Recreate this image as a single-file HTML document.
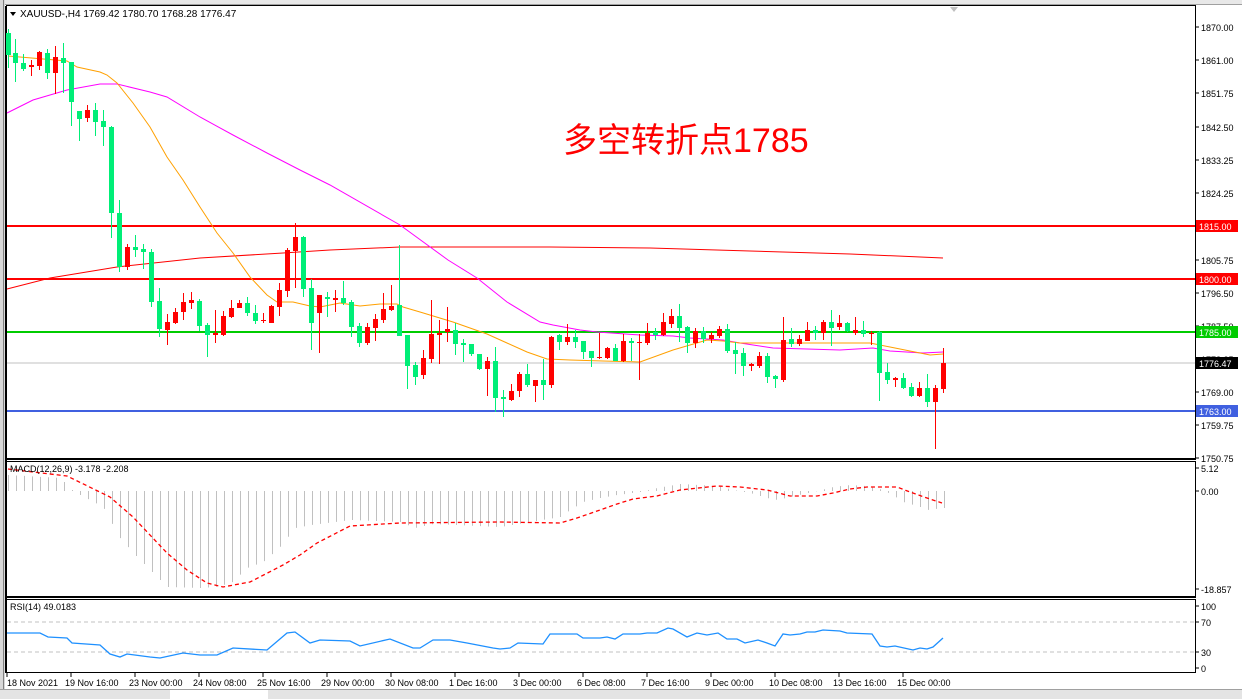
<!DOCTYPE html>
<html><head><meta charset="utf-8">
<style>
html,body{margin:0;padding:0;background:#fff;}
body{width:1242px;height:699px;overflow:hidden;position:relative;font-family:"Liberation Sans",sans-serif;}
svg{position:absolute;left:0;top:0;}
</style></head>
<body>
<svg id="s" width="1242" height="699" xmlns="http://www.w3.org/2000/svg" font-family="Liberation Sans, sans-serif">
<rect x="0" y="0" width="1242" height="699" fill="#fff"/>
<!-- top strip -->
<rect x="0" y="0" width="1242" height="4" fill="#e8e8e8"/>
<line x1="0" y1="4.5" x2="1242" y2="4.5" stroke="#a0a0a0"/>
<rect x="0" y="0" width="5" height="699" fill="#d8d8d8"/>
<line x1="3.5" y1="0" x2="3.5" y2="699" stroke="#808080"/>
<!-- frames -->
<rect x="6.5" y="5.5" width="1189" height="453" fill="none" stroke="#000"/>
<line x1="6" y1="6" x2="6" y2="673" stroke="#000" stroke-width="2"/>
<rect x="6.5" y="461.5" width="1189" height="135" fill="none" stroke="#000"/>
<line x1="6" y1="459.5" x2="1196" y2="459.5" stroke="#000"/>
<rect x="6.5" y="599.5" width="1189" height="73" fill="none" stroke="#000"/>
<line x1="6" y1="597.5" x2="1196" y2="597.5" stroke="#000"/>
<!-- bottom tab bar -->
<rect x="0" y="689" width="1242" height="10" fill="#e4e4e4"/>
<line x1="0" y1="689.5" x2="1242" y2="689.5" stroke="#a0a0a0"/>
<rect x="170" y="690" width="98" height="9" fill="#fff"/>
<g id="hl"></g>
<g id="ma"></g>
<g id="cd"></g>
<g id="ind"></g>
<!-- texts -->
<text x="20" y="17" font-size="10" fill="#000">XAUUSD-,H4  1769.42 1780.70 1768.28 1776.47</text>
<polygon points="10,12 16,12 13,16" fill="#000"/>
<polygon points="950,7 958,7 954,12" fill="#c0c0c0"/>
<text x="563" y="152" font-size="34" fill="#ff0000" font-family="Liberation Sans, Noto Sans CJK SC, sans-serif">多空转折点1785</text>
<text x="10" y="472" font-size="9" fill="#000">MACD(12,26,9) -3.178 -2.208</text>
<text x="10" y="610" font-size="9" fill="#000">RSI(14) 49.0183</text>
<g id="ax" font-size="9" fill="#000"></g>
</svg>
<script>
const NS="http://www.w3.org/2000/svg";
function el(p,t,a,txt){const e=document.createElementNS(NS,t);for(const k in a)e.setAttribute(k,a[k]);if(txt!==undefined)e.textContent=txt;p.appendChild(e);return e;}
const hl=document.getElementById('hl'),ma=document.getElementById('ma'),cd=document.getElementById('cd'),ind=document.getElementById('ind'),ax=document.getElementById('ax');
// horizontal levels
[[226,'#ff0000',2],[279,'#ff0000',2],[332,'#00cc00',2],[363,'#c0c0c0',1],[411,'#4060e0',2]].forEach(l=>el(hl,'line',{x1:7,x2:1195,y1:l[0],y2:l[0],stroke:l[1],'stroke-width':l[2]}));
// price axis
const pl=[[27,'1870.00'],[60,'1861.00'],[93,'1851.75'],[127,'1842.50'],[160,'1833.25'],[193,'1824.25'],[260,'1805.75'],[293,'1796.50'],[326,'1787.50'],[359,'1778.25'],[392,'1769.00'],[425,'1759.75'],[458,'1750.75']];
pl.forEach(p=>{el(ax,'line',{x1:1195,x2:1199,y1:p[0],y2:p[0],stroke:'#000'});el(ax,'text',{x:1201,y:p[0]+4},p[1]);});
[[226,'1815.00','#ff0000'],[279,'1800.00','#ff0000'],[332,'1785.00','#00cc00'],[363,'1776.47','#000'],[411,'1763.00','#4060e0']].forEach(b=>{el(ax,'rect',{x:1196,y:b[0]-6,width:42,height:12,fill:b[2]});el(ax,'text',{x:1199,y:b[0]+4,fill:'#fff'},b[1]);});
[[468,'5.12'],[491,'0.00'],[589,'-18.857']].forEach(p=>{el(ax,'line',{x1:1195,x2:1199,y1:p[0],y2:p[0],stroke:'#000'});el(ax,'text',{x:1201,y:p[0]+4},p[1]);});
[[606,'100'],[622,'70'],[652,'30'],[668,'0']].forEach(p=>{el(ax,'line',{x1:1195,x2:1199,y1:p[0],y2:p[0],stroke:'#000'});el(ax,'text',{x:1201,y:p[0]+4},p[1]);});
const dl=['18 Nov 2021','19 Nov 16:00','23 Nov 00:00','24 Nov 08:00','25 Nov 16:00','29 Nov 00:00','30 Nov 08:00','1 Dec 16:00','3 Dec 00:00','6 Dec 08:00','7 Dec 16:00','9 Dec 00:00','10 Dec 08:00','13 Dec 16:00','15 Dec 00:00'];
const dx=[7,71,135,199,263,327,391,455,519,583,647,711,775,839,903];
dl.forEach((d,i)=>{el(ax,'line',{x1:dx[i],x2:dx[i],y1:673,y2:677,stroke:'#000'});el(ax,'text',{x:dx[i]+(i==0?0:-6),y:686},d);});
// candles [x,o,c,h,l] in px ; green=down(open top)
const C=[[8,33,55,29,68,'g'],[15,53,63,39,82,'g'],[23,63,69,54,71,'g'],[31,67,65,60,76,'r'],[39,66,52,51,70,'r'],[47,53,73,49,79,'g'],[55,73,57,46,94,'r'],[63,58,63,43,93,'g'],[71,62,102,62,126,'g'],[79,111,119,111,141,'g'],[87,118,110,105,122,'r'],[95,110,122,103,136,'g'],[103,121,127,110,146,'g'],[111,127,213,126,238,'g'],[119,213,267,200,272,'g'],[127,267,247,244,270,'r'],[135,247,250,235,257,'g'],[143,249,252,244,269,'g'],[151,252,302,249,307,'g'],[159,301,329,288,337,'g'],[167,330,322,314,345,'r'],[175,323,312,308,324,'r'],[183,312,302,293,320,'r'],[191,303,300,292,309,'r'],[199,301,326,299,331,'g'],[207,325,335,323,357,'g'],[215,335,333,310,343,'r'],[223,335,316,311,336,'r'],[231,317,308,300,318,'r'],[239,308,303,300,308,'r'],[247,303,313,297,316,'g'],[255,313,321,305,324,'g'],[263,321,320,313,323,'r'],[271,323,306,305,323,'r'],[279,307,290,283,316,'r'],[287,291,250,248,297,'r'],[295,251,237,223,288,'r'],[303,237,289,236,297,'g'],[311,288,323,279,350,'g'],[319,313,295,295,353,'r'],[327,297,299,292,317,'g'],[335,300,298,290,312,'r'],[343,298,303,281,305,'g'],[351,302,327,300,337,'g'],[359,326,343,323,347,'g'],[367,343,327,323,345,'r'],[375,328,319,314,341,'r'],[383,320,309,293,323,'r'],[391,310,306,285,311,'r'],[399,305,336,245,336,'g'],[407,335,366,335,389,'g'],[415,365,377,362,385,'g'],[423,375,358,350,379,'r'],[431,359,334,300,363,'r'],[439,335,333,320,364,'r'],[447,332,329,307,342,'r'],[455,330,344,323,355,'g'],[463,343,345,339,362,'g'],[471,344,354,344,356,'g'],[479,354,369,354,370,'g'],[487,369,361,357,396,'r'],[495,361,398,347,412,'g'],[503,397,399,390,417,'g'],[511,400,391,384,401,'r'],[519,391,374,372,397,'r'],[527,374,385,364,387,'g'],[535,386,380,380,402,'r'],[543,380,385,359,400,'g'],[551,385,337,336,388,'r'],[559,335,342,334,350,'g'],[567,342,337,324,345,'r'],[575,337,342,330,348,'g'],[583,341,352,341,359,'g'],[591,351,358,351,367,'g'],[599,358,357,333,359,'r'],[607,358,348,347,359,'r'],[615,348,361,344,361,'g'],[623,361,341,334,362,'r'],[631,341,343,338,361,'g'],[639,343,342,334,380,'r'],[647,343,333,323,345,'r'],[655,332,335,328,340,'g'],[663,335,322,313,336,'r'],[671,324,316,309,328,'r'],[679,316,328,304,342,'g'],[687,327,343,326,353,'g'],[695,343,331,328,348,'r'],[703,331,339,327,343,'g'],[711,339,335,332,343,'r'],[719,336,329,326,338,'r'],[727,329,351,324,353,'g'],[735,350,354,342,374,'g'],[743,353,366,348,376,'g'],[751,366,364,363,371,'r'],[759,366,356,352,368,'r'],[767,356,377,353,383,'g'],[775,376,379,375,388,'g'],[783,380,340,317,382,'r'],[791,339,344,328,347,'g'],[799,344,339,335,346,'r'],[807,341,330,322,341,'r'],[815,330,333,326,340,'g'],[823,333,322,320,340,'r'],[831,322,328,310,346,'g'],[839,327,323,315,330,'r'],[847,323,331,322,332,'g'],[855,333,330,317,335,'r'],[863,330,334,321,337,'g'],[871,334,333,331,345,'r'],[879,332,373,331,401,'g'],[887,372,380,363,384,'g'],[895,380,378,377,387,'r'],[903,378,388,373,389,'g'],[911,387,396,383,397,'g'],[919,396,388,382,397,'r'],[927,388,402,374,407,'g'],[935,402,388,385,449,'r'],[943,389,363,348,393,'r']];
C.forEach(c=>{const col=c[5]=='g'?'#00ee77':'#ff0000';const x=c[0];const t=Math.min(c[1],c[2]),b=Math.max(c[1],c[2]);
el(cd,'line',{x1:x+0.5,x2:x+0.5,y1:c[3],y2:c[4],stroke:col});
el(cd,'rect',{x:x-2,y:t,width:5,height:Math.max(1,b-t),fill:col});});
function poly(p,pts,col,w,dash){el(p,'polyline',{points:pts.map(q=>q.join(',')).join(' '),fill:'none',stroke:col,'stroke-width':w||1,'stroke-dasharray':dash||'none'});}
poly(ma,[[7,289],[50,278],[117,267],[200,258],[283,253],[330,250],[400,247],[550,247],[650,248],[750,251],[850,254],[943,258]],'#ff0000',1);
poly(ma,[[7,113],[33,100],[67,90],[100,84],[117,84],[150,92],[167,97],[200,117],[233,135],[267,153],[300,170],[330,185],[400,225],[448,260],[477,278],[507,302],[540,322],[553,325],[580,330],[597,332],[640,335],[673,336],[690,338],[723,340],[740,343],[773,348],[807,349],[840,350],[873,348],[890,351],[923,353],[943,352]],'#ff00ff',1);
poly(ma,[[8,56],[67,61],[77,67],[100,72],[107,75],[117,83],[133,103],[150,127],[167,157],[183,180],[200,207],[217,233],[233,253],[250,277],[267,295],[277,302],[293,302],[310,306],[320,307],[340,303],[360,306],[380,304],[397,304],[403,307],[420,312],[453,322],[487,334],[507,343],[527,352],[547,359],[570,360],[603,361],[640,362],[673,350],[707,340],[723,341],[740,343],[870,343],[890,347],[910,351],[930,355],[943,354]],'#ffa000',1);
// MACD histogram
const H=[[8,475],[60,478],[72,490],[80,495],[103,507],[119,537],[135,555],[151,571],[167,587],[200,588],[215,587],[231,583],[247,568],[263,562],[279,548],[295,528],[311,525],[335,522],[351,520],[400,522],[415,528],[433,524],[500,527],[560,517],[567,512],[583,502],[600,498],[617,495],[640,492],[657,488],[680,484],[717,486],[733,490],[750,493],[767,498],[777,500],[790,497],[817,491],[833,487],[850,485],[867,486],[883,490],[897,498],[903,502],[920,507],[927,510],[943,508]];
function interp(arr,x){for(let i=0;i<arr.length-1;i++){if(x>=arr[i][0]&&x<=arr[i+1][0]){const f=(x-arr[i][0])/(arr[i+1][0]-arr[i][0]);return arr[i][1]+f*(arr[i+1][1]-arr[i][1]);}}return arr[arr.length-1][1];}
for(let x=8;x<=944;x+=8){const y=interp(H,x);el(ind,'line',{x1:x+0.5,x2:x+0.5,y1:491,y2:y,stroke:'#c0c0c0'});}
poly(ind,[[8,469],[67,476],[110,497],[133,517],[167,553],[187,570],[207,583],[223,587],[250,582],[283,565],[300,555],[317,543],[350,526],[400,523],[500,522],[560,523],[577,518],[600,510],[617,504],[633,499],[657,496],[680,490],[717,486],[740,487],[767,490],[790,496],[817,496],[833,493],[850,489],[867,487],[897,487],[910,492],[927,498],[942,503]],'#ff0000',1.3,'4,3');
// RSI levels
[622,652].forEach(y=>el(ind,'line',{x1:7,x2:1195,y1:y,y2:y,stroke:'#c0c0c0','stroke-dasharray':'4,3'}));
poly(ind,[[7,633],[40,633],[48,637],[67,638],[72,643],[100,645],[110,654],[120,657],[127,654],[150,657],[160,658],[183,653],[200,655],[217,655],[233,648],[267,650],[287,633],[295,632],[310,643],[320,640],[350,641],[360,646],[390,639],[413,648],[420,648],[433,640],[450,640],[467,643],[493,648],[500,649],[510,648],[518,643],[543,644],[550,634],[577,634],[583,638],[600,638],[607,637],[615,639],[623,634],[640,634],[647,633],[657,633],[668,628],[673,629],[687,637],[697,633],[707,635],[718,633],[727,639],[737,639],[745,643],[758,640],[767,643],[775,646],[783,634],[790,635],[800,634],[807,632],[815,632],[823,630],[840,631],[847,633],[872,634],[880,646],[887,647],[895,646],[913,650],[920,648],[927,649],[933,647],[943,638]],'#1e90ff',1.3);
</script>
</body></html>
